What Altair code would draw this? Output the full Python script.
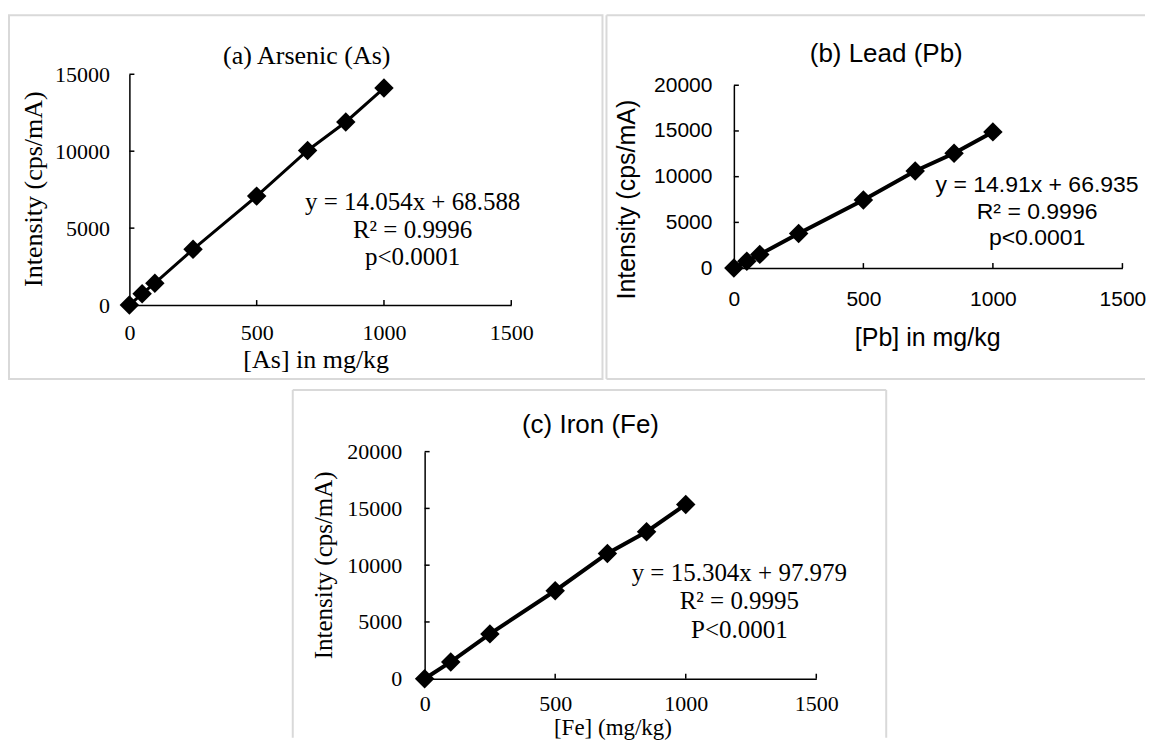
import altair as alt
import pandas as pd

# ---------------- data ----------------
CONC_AS = [0, 50, 100, 250, 500, 700, 850, 1000]
INT_AS = [0, 740, 1420, 3620, 7080, 10050, 11900, 14100]

CONC_PB = [0, 50, 100, 250, 500, 700, 850, 1000]
INT_PB = [0, 760, 1500, 3790, 7450, 10620, 12560, 14900]

CONC_FE = [0, 100, 250, 500, 700, 850, 1000]
INT_FE = [0, 1480, 3950, 7750, 11030, 12950, 15350]

X_TICKS = [0, 500, 1000, 1500]
Y_TICKS_A = [0, 5000, 10000, 15000]
Y_TICKS_BC = [0, 5000, 10000, 15000, 20000]

TITLES = ["(a) Arsenic (As)", "(b) Lead (Pb)", "(c) Iron (Fe)"]
X_TITLES = ["[As] in mg/kg", "[Pb] in mg/kg", "[Fe] (mg/kg)"]
Y_TITLE = "Intensity (cps/mA)"
EQS = [
    ["y = 14.054x + 68.588", "R\u00b2 = 0.9996", "p<0.0001"],
    ["y = 14.91x + 66.935", "R\u00b2 = 0.9996", "p<0.0001"],
    ["y = 15.304x + 97.979", "R\u00b2 = 0.9995", "P<0.0001"],
]

SERIF = "Liberation Serif"
SANS = "Liberation Sans"
BORDER = "#d9d9d9"
NOSTROKE = alt.ViewBackground(stroke="transparent", strokeWidth=0)


def one():
    return alt.Data(values=[{"k": 0}])


def edge(x, x2, y, y2):
    return alt.Chart(one()).mark_rule(color=BORDER, strokeWidth=2).encode(
        x=alt.value(x), x2=alt.value(x2), y=alt.value(y), y2=alt.value(y2))


def panel(conc, inten, ymax, yticks, p):
    W, H = p["W"], p["H"]
    x0, x1, yb, yt = p["x0"], p["x1"], p["yb"], p["yt"]
    df = pd.DataFrame({"conc": conc, "intensity": inten})
    xs = alt.Scale(domain=[0, 1500], range=[x0, x1], nice=False, zero=False)
    ys = alt.Scale(domain=[0, ymax], range=[yb, yt], nice=False, zero=False)
    xaxis = alt.Axis(values=X_TICKS, format="d", grid=False, ticks=False,
                     tickSize=0, domainColor="black", domainWidth=1.5,
                     offset=-(H - yb),
                     labelFont=p["lfont"], labelFontSize=p["lsize"],
                     labelColor="black", labelPadding=p["xpad"],
                     labelFlush=False, labelOverlap=False,
                     title=p["xtitle"], titleFont=p["afont"],
                     titleFontSize=p["xasize"], titleFontWeight="normal",
                     titleColor="black", titleX=p["xt"][0], titleY=p["xt"][1],
                     titleAlign="center", titleBaseline="middle")
    yaxis = alt.Axis(values=yticks, format="d", grid=False, ticks=False,
                     tickSize=0, domainColor="black", domainWidth=1.5,
                     offset=-x0,
                     labelFont=p["lfont"], labelFontSize=p["lsize"],
                     labelColor="black", labelPadding=p["ypad"],
                     labelFlush=False, labelOverlap=False,
                     title=Y_TITLE, titleFont=p["afont"],
                     titleFontSize=p["yasize"], titleFontWeight="normal",
                     titleColor="black", titleX=p["yt_"][0], titleY=p["yt_"][1],
                     titleAngle=270, titleAlign="center", titleBaseline="middle")

    X = alt.X("conc:Q", scale=xs, axis=xaxis)
    Y = alt.Y("intensity:Q", scale=ys, axis=yaxis)
    base = alt.Chart(df)
    line = base.mark_line(color="black", strokeWidth=p["lw"]).encode(x=X, y=Y)
    pts = base.mark_point(shape="diamond", filled=True, color="black",
                          size=p["ss"], opacity=1).encode(x=X, y=Y)
    xtk = alt.Chart(pd.DataFrame({"conc": X_TICKS})).mark_rule(
        color="black", strokeWidth=1.5).encode(
        x=X, y=alt.value(yb), y2=alt.value(yb - 5))
    ytk = alt.Chart(pd.DataFrame({"intensity": yticks})).mark_rule(
        color="black", strokeWidth=1.5).encode(
        y=Y, x=alt.value(x0), x2=alt.value(x0 + 5))
    ttl = alt.Chart(one()).mark_text(
        font=p["tfont"], fontSize=p["tsize"], color="black", align="center",
        baseline="middle").encode(
        x=alt.value(p["tpos"][0]), y=alt.value(p["tpos"][1]),
        text=alt.value(p["title"]))
    eqt = alt.Chart(one()).mark_text(
        font=p["efont"], fontSize=p["esize"], color="black", align="center",
        baseline="middle", lineHeight=p["elh"]).encode(
        x=alt.value(p["epos"][0]), y=alt.value(p["epos"][1]),
        text=alt.value(p["eq"]))
    layers = list(p["edges"]) + [xtk, ytk, line, pts, ttl, eqt]
    ch = alt.layer(*layers).properties(width=W, height=H)
    if p["edges"]:
        ch = ch.properties(view=NOSTROKE)
    return ch


PA = dict(W=594, H=364, edges=[],
          x0=120.5, x1=502.7, yb=290, yt=59, title=TITLES[0], tpos=(298, 41),
          tfont=SERIF, tsize=26, lfont=SERIF, lsize=22, afont=SERIF,
          xasize=26, yasize=26,
          xtitle=X_TITLES[0], xt=(307, 54), yt_=(-96, 173.5), xpad=17, ypad=20,
          eq=EQS[0], epos=(404, 187), efont=SERIF, esize=25, elh=27.5,
          lw=3, ss=380)
PB = dict(W=539, H=364,
          edges=[edge(0, 539, 0, 0), edge(0, 0, 0, 364), edge(0, 539, 364, 364)],
          x0=127.5, x1=516.4, yb=253, yt=70, title=TITLES[1], tpos=(280, 39),
          tfont=SANS, tsize=26, lfont=SANS, lsize=21, afont=SANS,
          xasize=25, yasize=25,
          xtitle=X_TITLES[1], xt=(321, 69), yt_=(-107, 184), xpad=20, ypad=22,
          eq=EQS[1], epos=(431, 170), efont=SANS, esize=23, elh=26.5,
          lw=4, ss=380)
PC = dict(W=594, H=348,
          edges=[edge(0, 594, 0, 0), edge(0, 0, 0, 348), edge(594, 594, 0, 348)],
          x0=132, x1=524, yb=289, yt=61.7, title=TITLES[2], tpos=(298, 35),
          tfont=SANS, tsize=26, lfont=SERIF, lsize=22, afont=SERIF,
          xasize=23, yasize=25,
          xtitle=X_TITLES[2], xt=(320, 48.5), yt_=(-101, 175), xpad=15, ypad=23,
          eq=EQS[2], epos=(447, 183), efont=SERIF, esize=25, elh=28.5,
          lw=4, ss=380)

pa = panel(CONC_AS, INT_AS, 15000, Y_TICKS_A, PA)
pb = panel(CONC_PB, INT_PB, 20000, Y_TICKS_BC, PB)
pc = panel(CONC_FE, INT_FE, 20000, Y_TICKS_BC, PC)

spacer = alt.Chart(one()).mark_rect(opacity=0).encode(
    x=alt.value(0), x2=alt.value(283), y=alt.value(0), y2=alt.value(1)
).properties(width=283, height=1, view=NOSTROKE)

row1 = alt.hconcat(pa, pb, spacing=2)
row2 = alt.hconcat(spacer, pc, spacing=0)

chart = alt.vconcat(row1, row2, spacing=9).properties(
    padding={"left": 0, "top": 6, "right": 0, "bottom": 0},
    background="white",
).configure_view(stroke=BORDER, strokeWidth=2)

chart.save("out.html", embed_options={"renderer": "svg", "actions": False})
